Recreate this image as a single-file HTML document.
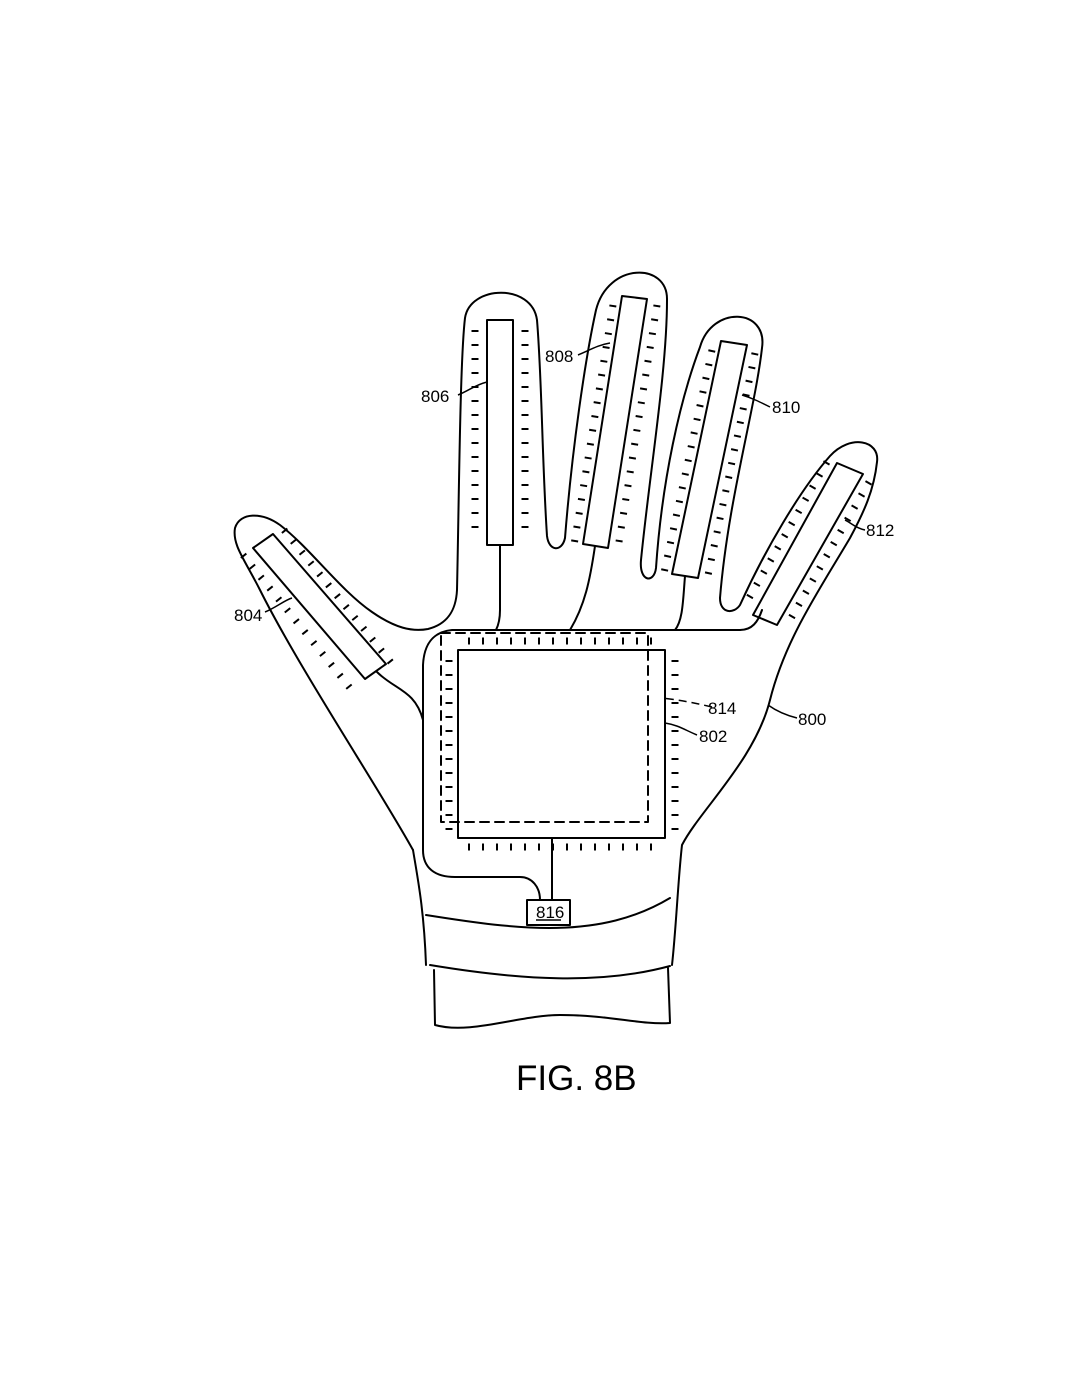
<!DOCTYPE html>
<html><head><style>
html,body{margin:0;padding:0;background:#fff}
svg{display:block}
text{font-family:"Liberation Sans",sans-serif;fill:#000}
</style></head><body>
<svg width="1080" height="1398" viewBox="0 0 1080 1398" xmlns="http://www.w3.org/2000/svg">
<g fill="none" stroke="#000" stroke-width="2" stroke-linecap="round" stroke-linejoin="round">
<path d="M413,850 C380,790 300,670 260,590 C245,560 232,545 235,528 C240,512 262,512 280,525 C310,548 340,590 372,612 C395,628 412,632 428,629 C448,624 456,610 457,590 C459,500 460,360 465,318 C470,285 532,283 537,320 C542,380 542,460 547,536 C549,552 562,552 565,538 C572,450 585,360 596,310 C608,262 668,262 667,300 C667,370 650,470 641,560 C639,582 654,584 656,568 C662,480 680,400 700,347 C712,305 768,308 762,348 C755,410 728,500 720,598 C720,614 734,614 740,605 C765,550 800,490 830,456 C850,434 880,440 877,462 C874,490 864,512 850,538 C818,592 785,640 770,700 C755,760 700,810 682,845 C678,880 676,930 672,965"/>
<path d="M413,850 C418,880 424,910 426,965"/>
<path d="M426,915 C520,930 600,940 670,898"/>
<path d="M430,965 C520,980 600,985 670,966"/>
<path d="M434,970 L435,1025 C470,1035 520,1015 560,1015 C610,1015 640,1025 670,1023 L668,968"/>
<path d="M377,672 C395,690 415,690 423,720"/>
<path d="M740,630 L452,630 C432,632 424,645 423,665 L423,850 C423,868 435,877 455,877 L520,877 C532,877 540,887 540,900"/>
<path d="M500,545 L500,610 C500,620 498,626 496,630"/>
<path d="M595,546 C590,580 585,605 570,630"/>
<path d="M685,576 C683,600 683,620 675,630"/>
<path d="M740,630 C752,630 758,622 762,610"/>
<path d="M552,838 L552,900"/>
<rect x="487" y="320" width="26" height="225"/>
<polygon points="622,296 647,299 608,548 583,544"/>
<polygon points="721,341 747,345 698,578 672,574"/>
<polygon points="837,463 863,474 777,625 753,615"/>
<polygon points="253,548 273,534 386,664 365,679"/>
<rect x="458" y="650" width="207" height="188"/>
<rect x="441" y="633" width="207" height="189" stroke-dasharray="9,6"/>
<rect x="527" y="900" width="43" height="25"/>
</g>
<g fill="none" stroke="#000" stroke-width="7" stroke-dasharray="2,12">
<line x1="475" y1="330" x2="475" y2="538"/>
<line x1="525" y1="330" x2="525" y2="538"/>
<line x1="613" y1="305" x2="574" y2="545"/>
<line x1="657" y1="305" x2="618" y2="548"/>
<line x1="712" y1="350" x2="664" y2="573"/>
<line x1="755" y1="353" x2="707" y2="580"/>
<line x1="827" y1="462" x2="745" y2="605"/>
<line x1="869" y1="482" x2="786" y2="627"/>
<line x1="243" y1="555" x2="350" y2="688"/>
<line x1="284" y1="530" x2="393" y2="665"/>
<line x1="449" y1="660" x2="449" y2="830"/>
<line x1="675" y1="660" x2="675" y2="830"/>
<line x1="468" y1="641" x2="660" y2="641"/>
<line x1="468" y1="847" x2="660" y2="847"/>
</g>
<g fill="none" stroke="#000" stroke-width="1.5">
<path d="M458,395 C470,390 475,385 487,382"/>
<path d="M578,355 C590,350 598,345 610,343"/>
<path d="M770,407 C760,402 752,398 742,395"/>
<path d="M865,530 C855,528 850,522 845,520"/>
<path d="M265,612 C275,608 285,600 292,598"/>
<path d="M712,707 C695,703 680,700 662,698" stroke-dasharray="8,5"/>
<path d="M697,735 C685,730 678,725 665,723"/>
<path d="M797,718 C785,715 775,710 768,705"/>
<line x1="536" y1="920" x2="561" y2="920"/>
</g>
<g font-size="17">
<text x="421" y="402">806</text>
<text x="545" y="362">808</text>
<text x="772" y="413">810</text>
<text x="866" y="536">812</text>
<text x="234" y="621">804</text>
<text x="708" y="714">814</text>
<text x="699" y="742">802</text>
<text x="798" y="725">800</text>
<text x="536" y="918">816</text>
</g>
<text x="516" y="1090" font-size="35">FIG. 8B</text>
</svg>
</body></html>
